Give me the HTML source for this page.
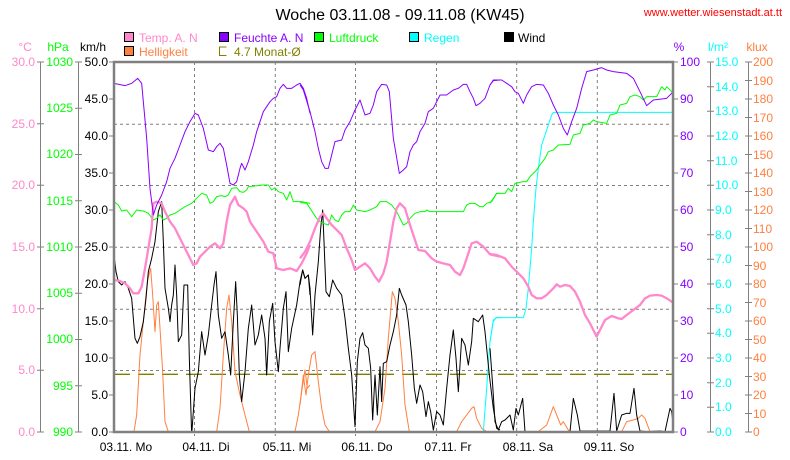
<!DOCTYPE html>
<html><head><meta charset="utf-8"><style>
body{margin:0;background:#fff;}
svg{display:block;font-family:"Liberation Sans",sans-serif;font-size:12px;}
</style></head><body>
<svg width="790" height="460" viewBox="0 0 790 460" xmlns="http://www.w3.org/2000/svg">
<rect width="790" height="460" fill="#fff"/>
<text x="400" y="20" font-size="16" text-anchor="middle">Woche 03.11.08 - 09.11.08 (KW45)</text>
<text x="782" y="16" font-size="11" fill="#ff0000" text-anchor="end">www.wetter.wiesenstadt.at.tt</text>
<!-- legend -->
<g font-size="12">
<rect x="124.5" y="32.5" width="9" height="9" fill="#ff88cc" stroke="#000"/><text x="139" y="42" fill="#ff88cc">Temp. A. N</text>
<rect x="219.5" y="32.5" width="9" height="9" fill="#8800ff" stroke="#000"/><text x="234" y="42" fill="#8800ff">Feuchte A. N</text>
<rect x="314.5" y="32.5" width="9" height="9" fill="#00ff00" stroke="#000"/><text x="329" y="42" fill="#00ff00">Luftdruck</text>
<rect x="409.5" y="32.5" width="9" height="9" fill="#00ffff" stroke="#000"/><text x="424" y="42" fill="#00ffff">Regen</text>
<rect x="504.5" y="32.5" width="9" height="9" fill="#000" stroke="#000"/><text x="518" y="42">Wind</text>
<rect x="124.5" y="46.5" width="9" height="9" fill="#ff8040" stroke="#000"/><text x="139" y="56" fill="#ff8040">Helligkeit</text>
<path d="M226.5 47 H219.5 V55.5 H226.5" fill="none" stroke="#808000"/><text x="234" y="56" fill="#808000">4.7 Monat-Ø</text>
</g>
<!-- unit headers -->
<text x="25" y="51" fill="#ff88cc" text-anchor="middle">°C</text>
<text x="58" y="51" fill="#00ff00" text-anchor="middle">hPa</text>
<text x="93" y="51" text-anchor="middle">km/h</text>
<text x="679" y="51" fill="#8800ff" text-anchor="middle">%</text>
<text x="718" y="51" fill="#00ffff" text-anchor="middle">l/m²</text>
<text x="757" y="51" fill="#ff8040" text-anchor="middle">klux</text>
<!-- left axis lines -->
<line x1="40.5" y1="62" x2="40.5" y2="432" stroke="#808080"/>
<line x1="78.5" y1="62" x2="78.5" y2="432" stroke="#808080"/>
<line x1="710.5" y1="62" x2="710.5" y2="432" stroke="#808080"/>
<line x1="748.5" y1="62" x2="748.5" y2="432" stroke="#808080"/>
<g id="ticks" fill="none" stroke="#808080">
<path d="M37 62h7M37 123.7h7M37 185.3h7M37 247h7M37 308.7h7M37 370.3h7M37 432h7"/>
<path d="M75 62h7M75 108.25h7M75 154.5h7M75 200.75h7M75 247h7M75 293.25h7M75 339.5h7M75 385.75h7M75 432h7"/>
<path d="M109 62h5M109 99h5M109 136h5M109 173h5M109 210h5M109 247h5M109 284h5M109 321h5M109 358h5M109 395h5M109 432h5"/>
<path d="M673 62h5M673 99h5M673 136h5M673 173h5M673 210h5M673 247h5M673 284h5M673 321h5M673 358h5M673 395h5M673 432h5"/>
<path d="M707 62h7M707 86.7h7M707 111.3h7M707 136h7M707 160.7h7M707 185.3h7M707 210h7M707 234.7h7M707 259.3h7M707 284h7M707 308.7h7M707 333.3h7M707 358h7M707 382.7h7M707 407.3h7M707 432h7"/>
<path d="M745 62h7M745 80.5h7M745 99h7M745 117.5h7M745 136h7M745 154.5h7M745 173h7M745 191.5h7M745 210h7M745 228.5h7M745 247h7M745 265.5h7M745 284h7M745 302.5h7M745 321h7M745 339.5h7M745 358h7M745 376.5h7M745 395h7M745 413.5h7M745 432h7"/>
</g>
<g fill="#ff88cc" text-anchor="end">
<text x="35" y="66">30.0</text><text x="35" y="128">25.0</text><text x="35" y="189">20.0</text><text x="35" y="251">15.0</text><text x="35" y="313">10.0</text><text x="35" y="374">5.0</text><text x="35" y="436">0.0</text>
</g>
<g fill="#00ff00" text-anchor="end">
<text x="73" y="66">1030</text><text x="73" y="112">1025</text><text x="73" y="158">1020</text><text x="73" y="205">1015</text><text x="73" y="251">1010</text><text x="73" y="297">1005</text><text x="73" y="343">1000</text><text x="73" y="390">995</text><text x="73" y="436">990</text>
</g>
<g fill="#000" text-anchor="end">
<text x="108" y="66">50.0</text><text x="108" y="103">45.0</text><text x="108" y="140">40.0</text><text x="108" y="177">35.0</text><text x="108" y="214">30.0</text><text x="108" y="251">25.0</text><text x="108" y="288">20.0</text><text x="108" y="325">15.0</text><text x="108" y="362">10.0</text><text x="108" y="399">5.0</text><text x="108" y="436">0.0</text>
</g>
<g fill="#8800ff">
<text x="680" y="66">100</text><text x="680" y="103">90</text><text x="680" y="140">80</text><text x="680" y="177">70</text><text x="680" y="214">60</text><text x="680" y="251">50</text><text x="680" y="288">40</text><text x="680" y="325">30</text><text x="680" y="362">20</text><text x="680" y="399">10</text><text x="680" y="436">0</text>
</g>
<g fill="#00ffff">
<text x="715" y="66">15.0</text><text x="715" y="91">14.0</text><text x="715" y="115">13.0</text><text x="715" y="140">12.0</text><text x="715" y="165">11.0</text><text x="715" y="189">10.0</text><text x="715" y="214">9.0</text><text x="715" y="239">8.0</text><text x="715" y="263">7.0</text><text x="715" y="288">6.0</text><text x="715" y="313">5.0</text><text x="715" y="337">4.0</text><text x="715" y="362">3.0</text><text x="715" y="387">2.0</text><text x="715" y="411">1.0</text><text x="715" y="436">0.0</text>
</g>
<g fill="#ff8040">
<text x="753" y="66">200</text><text x="753" y="85">190</text><text x="753" y="103">180</text><text x="753" y="122">170</text><text x="753" y="140">160</text><text x="753" y="159">150</text><text x="753" y="177">140</text><text x="753" y="196">130</text><text x="753" y="214">120</text><text x="753" y="233">110</text><text x="753" y="251">100</text><text x="753" y="270">90</text><text x="753" y="288">80</text><text x="753" y="307">70</text><text x="753" y="325">60</text><text x="753" y="344">50</text><text x="753" y="362">40</text><text x="753" y="381">30</text><text x="753" y="399">20</text><text x="753" y="418">10</text><text x="753" y="436">0</text>
</g>
<!-- x labels -->
<g text-anchor="middle">
<text x="126" y="451">03.11. Mo</text><text x="206" y="451">04.11. Di</text><text x="287" y="451">05.11. Mi</text><text x="367" y="451">06.11. Do</text><text x="448" y="451">07.11. Fr</text><text x="528" y="451">08.11. Sa</text><text x="609" y="451">09.11. So</text>
</g>
<!-- grid -->
<g stroke="#808080" stroke-dasharray="3,3" fill="none">
<path d="M114 124.3H673M114 185.5H673M114 247.3H673M114 309.2H673M114 370.5H673"/>
<path d="M194.5 62V436M275.3 62V436M355.5 62V436M436.5 62V436M516.7 62V436M597.3 62V436"/>
</g>
<line x1="114" y1="374.3" x2="673" y2="374.3" stroke="#808000" stroke-width="1.3" stroke-dasharray="16,8"/>
<defs><clipPath id="c"><rect x="114" y="62" width="559" height="371"/></clipPath></defs>
<g clip-path="url(#c)" fill="none" stroke-linejoin="round">
<!-- panel 1 -->
<g transform="translate(110,55) scale(0.33333)">
<polyline vector-effect="non-scaling-stroke" stroke="#ff8040" points="72,1130 80,1080 90,900 100,800 112,680 122,640 128,720 135,830 140,750 145,740 150,820 158,950 165,1100 175,1130 320,1130 330,1060 340,900 350,760 357,720 365,800 375,950 390,1020 405,1080 418,1130 555,1130 565,1080 575,1010 585,945 592,1000 600,990"/>
<polyline vector-effect="non-scaling-stroke" stroke="#000" points="12,600 18,650 25,680 35,690 45,680 55,700 65,730 70,790 75,850 82,865 90,845 100,800 108,730 115,650 125,610 135,560 145,470 155,440 160,560 165,700 175,760 180,800 185,750 190,720 195,630 200,720 205,860 215,840 222,690 233,690 238,910 245,1140 255,1000 265,950 275,830 285,900 295,840 305,750 312,690 318,650 325,780 335,850 345,830 355,900 362,960 370,800 377,680 382,780 388,960 395,1040 405,950 415,820 425,750 435,870 445,840 455,780 465,850 470,960 478,800 488,745 495,860 505,950 510,880 520,760 528,710 535,890 545,820 560,750 570,680 578,645 585,670 595,660 600,720"/>
<polyline vector-effect="non-scaling-stroke" stroke="#00ff00" points="12,440 25,450 35,468 50,465 65,485 80,465 100,468 115,475 130,495 140,490 150,480 160,495 170,490 180,480 195,475 210,465 225,455 245,445 260,430 275,415 290,420 300,445 310,440 320,425 335,422 345,425 355,420 365,400 380,398 390,410 400,412 410,405 415,395 435,393 455,390 475,390 485,405 495,398 505,410 520,415 530,435 540,410 550,440 575,440 600,445"/>
<polyline vector-effect="non-scaling-stroke" stroke="#ff88cc" stroke-width="2.3" points="12,675 30,678 45,685 60,700 70,715 85,715 95,695 105,640 115,580 125,520 130,445 140,440 155,445 165,470 180,500 195,520 210,550 225,580 240,610 250,630 260,625 270,605 285,590 300,575 315,565 330,580 340,565 350,500 360,450 375,425 385,450 400,460 410,470 420,500 440,530 460,560 475,590 490,595 500,640 520,645 540,640 560,648 575,625 590,595 600,570"/>
<polyline vector-effect="non-scaling-stroke" stroke="#8800ff" points="12,85 45,92 65,85 83,70 95,85 100,140 110,250 120,400 130,480 140,450 155,420 170,380 180,340 195,310 210,270 225,230 240,200 255,175 265,180 280,220 295,285 310,290 320,275 330,265 340,280 350,330 360,385 370,390 380,380 390,340 395,325 405,345 415,320 430,270 440,230 450,200 460,170 470,155 480,140 490,130 500,125 510,100 520,88 530,100 545,100 560,90 570,85 580,100 590,130 600,175"/>
</g>
<!-- panel 2 -->
<g transform="translate(300,55) scale(0.33333)">
<polyline vector-effect="non-scaling-stroke" stroke="#ff8040" points="0,1050 10,960 18,1020 25,960 35,900 45,890 55,980 65,1060 75,1110 88,1130 225,1130 240,1100 255,1000 265,850 277,710 285,730 295,800 305,900 315,1050 328,1130 470,1130 485,1100 500,1080 515,1060 522,1055 530,1090 545,1120 560,1130"/>
<polyline vector-effect="non-scaling-stroke" stroke="#00ffff" points="550,1130 560,1000 570,860 580,795 590,788 605,788"/>
<polyline vector-effect="non-scaling-stroke" stroke="#000" points="0,690 8,645 15,670 25,660 30,700 38,840 45,720 55,620 62,520 68,465 72,560 78,710 88,725 98,675 110,700 125,720 135,790 145,880 155,960 165,1115 172,920 180,850 188,833 195,870 205,880 212,940 218,1095 225,960 232,1080 240,935 245,1040 250,925 260,920 270,870 280,830 290,780 298,700 305,720 318,750 325,800 335,900 343,1000 350,1045 360,990 368,1010 378,1085 385,1040 392,1070 400,1125 410,1070 420,1080 430,1110 440,1000 450,900 460,825 468,910 475,1010 485,850 495,870 505,930 515,860 520,790 535,800 548,780 555,830 568,960 580,1060 590,1120 600,1125"/>
<polyline vector-effect="non-scaling-stroke" stroke="#00ff00" points="0,442 20,445 30,460 50,490 60,500 70,505 85,510 95,480 105,495 115,500 125,480 135,470 150,470 160,450 170,465 195,470 210,465 220,460 230,455 240,440 260,440 275,450 290,470 300,490 310,510 320,505 330,490 345,475 360,470 375,470 380,465 390,470 420,470 490,470 500,450 510,445 525,445 540,455 550,455 560,445 575,440 590,415 600,415"/>
<polyline vector-effect="non-scaling-stroke" stroke="#ff88cc" stroke-width="2.3" points="0,610 15,590 30,560 45,520 60,485 70,475 80,490 95,510 110,525 125,540 140,580 155,615 165,645 180,635 195,625 210,640 225,665 237,680 250,655 260,620 270,560 280,500 290,460 300,445 315,460 330,510 345,555 355,585 375,588 395,610 410,620 430,625 450,630 465,650 480,660 490,640 500,610 515,565 530,560 550,575 570,598 600,605"/>
<polyline vector-effect="non-scaling-stroke" stroke="#8800ff" points="0,90 10,105 30,170 45,230 55,280 65,320 75,340 85,340 95,300 105,260 125,255 135,225 150,200 165,165 180,135 195,180 210,175 220,150 230,110 245,88 260,90 268,110 280,250 298,355 310,345 320,335 330,290 340,270 350,260 360,230 375,205 385,170 400,160 410,140 420,120 440,120 460,105 475,100 490,88 500,88 510,110 520,130 528,152 540,145 555,130 570,90 580,77 600,75"/>
</g>
<!-- panel 3 -->
<g transform="translate(490,55) scale(0.33333)">
<polyline vector-effect="non-scaling-stroke" stroke="#ff8040" points="145,1130 170,1110 190,1055 200,1080 212,1110 220,1100 235,1125 240,1130"/>
<polyline vector-effect="non-scaling-stroke" stroke="#ff8040" points="395,1130 410,1100 430,1095 445,1090 455,1080 465,1090 480,1130"/>
<polyline vector-effect="non-scaling-stroke" stroke="#000" points="0,880 8,990 15,1100 25,1125 35,1100 45,1095 60,1080 70,1125 78,1060 85,1080 98,1030 105,1130 120,1130 240,1130 250,1030 262,1080 270,1128 360,1128 372,1015 380,1128 395,1080 410,1075 420,1075 432,1000 440,1080 450,1128 470,1130 510,1128 525,1130 540,1060 545,1070 552,1130"/>
<polyline vector-effect="non-scaling-stroke" stroke="#00ffff" points="0,860 10,800 18,788 100,788 108,760 115,700 125,580 130,500 138,400 145,340 155,270 165,240 175,210 185,180 190,172 555,172"/>
<polyline vector-effect="non-scaling-stroke" stroke="#00ff00" points="0,445 10,430 20,415 45,415 55,400 65,410 75,385 100,380 110,380 120,365 140,345 150,330 165,310 175,290 190,285 205,270 240,268 250,240 270,235 280,210 300,205 310,195 320,200 350,205 360,180 380,175 390,150 410,145 420,125 435,120 450,125 460,135 470,125 500,125 515,95 525,105 530,95 545,110 555,105"/>
<polyline vector-effect="non-scaling-stroke" stroke="#ff88cc" stroke-width="2.3" points="0,597 20,600 45,610 65,635 80,650 100,670 115,695 125,720 140,730 155,730 170,720 190,700 200,688 210,695 225,690 240,693 255,710 270,740 285,780 300,805 320,845 335,815 345,795 365,783 385,790 395,792 410,780 430,765 450,750 465,730 480,722 500,720 515,722 530,730 545,740 555,745"/>
<polyline vector-effect="non-scaling-stroke" stroke="#8800ff" points="0,90 10,75 35,75 50,85 65,95 75,110 85,115 100,145 110,120 125,95 140,88 160,90 175,115 190,150 205,180 220,220 232,240 245,200 260,160 275,100 290,50 310,45 335,38 350,45 370,50 410,55 430,70 450,110 470,152 490,135 530,130 545,115 555,100"/>
</g>
</g>
<!-- plot frame -->
<rect x="114" y="62" width="559" height="370" fill="none" stroke="#808080" stroke-width="2.5"/>
</svg>
</body></html>
